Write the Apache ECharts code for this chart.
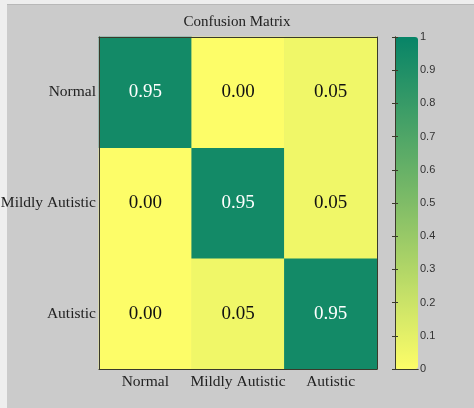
<!DOCTYPE html>
<html>
<head>
<meta charset="utf-8">
<script src="https://cdn.jsdelivr.net/npm/echarts@6/dist/echarts.min.js"></script>
<style>
html,body{margin:0;padding:0;background:#eeeeee;width:474px;height:408px;overflow:hidden;}
#bg{position:absolute;left:7px;top:4px;width:467px;height:404px;background:#cbcbcb;border-top:1px solid #b8b8b8;}
#chart{position:absolute;left:0;top:0;width:474px;height:408px;}
</style>
</head>
<body>
<div id="bg"></div>
<div id="chart"></div>
<script>
const xCategories = ['Normal', 'Mildly Autistic', 'Autistic'];
const yCategories = ['Autistic', 'Mildly Autistic', 'Normal']; // bottom to top
// rows: actual class (top to bottom: Normal, Mildly Autistic, Autistic)
const rowNormal = [0.95, 0.00, 0.05];
const rowMildly = [0.00, 0.95, 0.05];
const rowAutistic = [0.00, 0.05, 0.95];
const colorbarTicks = [0, 0.1, 0.2, 0.3, 0.4, 0.5, 0.6, 0.7, 0.8, 0.9, 1];

const rows = { 'Normal': rowNormal, 'Mildly Autistic': rowMildly, 'Autistic': rowAutistic };
const data = [];
yCategories.forEach((yc, yi) => {
  rows[yc].forEach((v, xi) => data.push([xi, yi, v]));
});

const serif = '"Liberation Serif", "Times New Roman", serif';
const chart = echarts.init(document.getElementById('chart'));
const frame = { show: true, lineStyle: { color: '#3a3a2a', width: 1 } };
chart.setOption({
  animation: false,
  backgroundColor: 'transparent',
  title: {
    text: 'Confusion Matrix', left: 'center', top: 10,
    textStyle: { fontFamily: serif, fontSize: 15, fontWeight: 'normal', color: '#222' }
  },
  grid: [
    { left: 99, top: 37, width: 278, height: 332, containLabel: false, outerBoundsMode: 'none' },
    { left: 395, top: 37, width: 23, height: 332, containLabel: false, outerBoundsMode: 'none' }
  ],
  xAxis: [
    { type: 'category', gridIndex: 0, data: xCategories, position: 'bottom', z: 10,
      axisLine: frame, axisTick: { show: false },
      axisLabel: { interval: 0, fontFamily: serif, fontSize: 15.5, color: '#222', margin: 5 } },
    { type: 'value', gridIndex: 0, min: 0, max: 1, position: 'top', z: 10,
      axisLine: frame, axisTick: { show: false }, axisLabel: { show: false }, splitLine: { show: false } },
    { type: 'value', gridIndex: 1, min: 0, max: 1, position: 'bottom', z: 10,
      axisLine: frame, axisTick: { show: false }, axisLabel: { show: false }, splitLine: { show: false } },
    { type: 'value', gridIndex: 1, min: 0, max: 1, position: 'top', z: 10,
      axisLine: frame, axisTick: { show: false }, axisLabel: { show: false }, splitLine: { show: false } }
  ],
  yAxis: [
    { type: 'category', gridIndex: 0, data: yCategories, position: 'left', z: 10,
      axisLine: frame, axisTick: { show: false },
      axisLabel: { interval: 0, fontFamily: serif, fontSize: 15.5, color: '#222', margin: 3 } },
    { type: 'value', gridIndex: 0, min: 0, max: 1, position: 'right', z: 10,
      axisLine: frame, axisTick: { show: false }, axisLabel: { show: false }, splitLine: { show: false } },
    { type: 'value', gridIndex: 1, min: 0, max: 1, interval: 0.1, position: 'right', z: 10,
      axisLine: frame,
      axisTick: { show: true, inside: true, length: 3, lineStyle: { color: '#3a3a2a' } },
      axisLabel: { fontFamily: '"Liberation Sans", Arial, sans-serif', fontSize: 11, color: '#333', margin: 2,
        formatter: v => { const t = colorbarTicks.find(c => Math.abs(c - v) < 1e-6); return t === undefined ? '' : String(t); } },
      splitLine: { show: false } },
    { type: 'value', gridIndex: 1, min: 0, max: 1, interval: 0.1, position: 'left', z: 10,
      axisLine: frame,
      axisTick: { show: true, inside: true, length: 3, lineStyle: { color: '#3a3a2a' } },
      axisLabel: { show: false }, splitLine: { show: false } }
  ],
  visualMap: {
    type: 'continuous', min: 0, max: 1, calculable: false, show: true,
    orient: 'vertical', left: 395, top: 37, itemWidth: 23, itemHeight: 332, padding: 0,
    text: null, showLabel: false, seriesIndex: 0,
    inRange: { color: ['#fdfd68', '#7fbc67', '#078467'] }
  },
  series: [{
    type: 'heatmap', xAxisIndex: 0, yAxisIndex: 0,
    data: data.map(d => ({ value: d, label: { color: d[2] > 0.5 ? '#ffffff' : '#111111' } })),
    itemStyle: { borderWidth: 0 },
    label: {
      show: true, fontFamily: serif, fontSize: 19,
      formatter: p => p.value[2].toFixed(2)
    }
  }]
});
</script>
</body>
</html>
